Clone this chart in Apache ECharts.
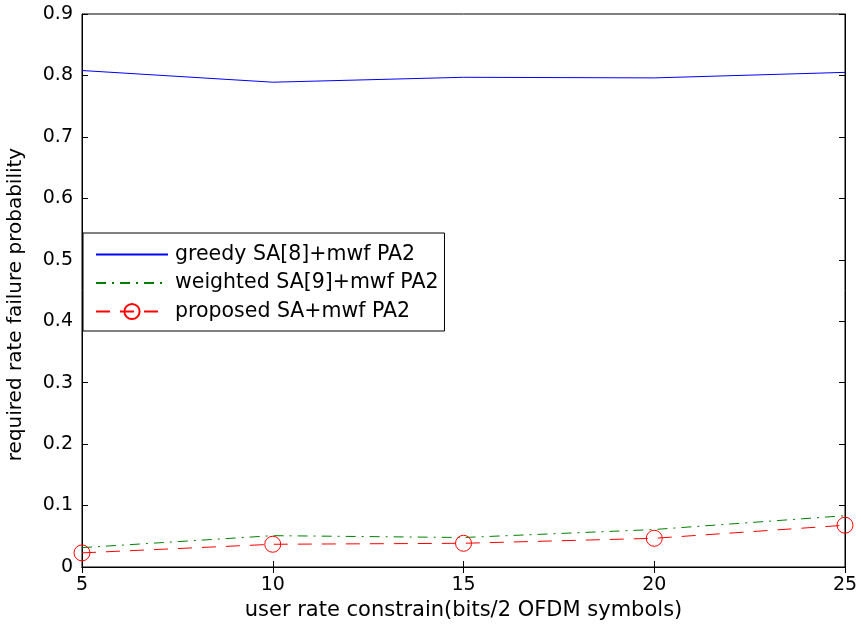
<!DOCTYPE html>
<html><head><meta charset="utf-8">
<script src="https://cdn.jsdelivr.net/npm/echarts@6/dist/echarts.min.js"></script>
<style>html,body{margin:0;padding:0;background:#fff}#c{width:861px;height:630px}</style>
</head><body><div id="c"></div>
<script>
const xValues = [5, 10, 15, 20, 25];
const greedy = [0.808, 0.789, 0.797, 0.796, 0.805];
const weighted = [0.0315, 0.051, 0.048, 0.061, 0.0835];
const proposed = [0.023, 0.037, 0.0386, 0.0467, 0.068];
const seriesNames = ['greedy SA[8]+mwf PA2', 'weighted SA[9]+mwf PA2', 'proposed SA+mwf PA2'];
const xTitle = 'user rate constrain(bits/2 OFDM symbols)';
const yTitle = 'required rate failure probability';

const pair = a => xValues.map((x, i) => [x, a[i]]);
const font = '"DejaVu Sans", Arial, Helvetica, sans-serif';
const chart = echarts.init(document.getElementById('c'));
const axisLine = {show: true, lineStyle: {color: '#000', width: 1}};
const tick = {inside: true, length: 6, lineStyle: {color: '#000'}};
chart.setOption({
  animation: false,
  backgroundColor: '#fff',
  grid: {left: 82, top: 14, width: 763, height: 553, show: true, borderColor: '#000', borderWidth: 1,
         containLabel: false, outerBoundsMode: 'none'},
  legend: {
    left: 83, top: 233,
    orient: 'vertical', itemGap: 7.5, padding: [11, 6, 9, 12],
    backgroundColor: '#fff', borderColor: '#000', borderWidth: 1, borderRadius: 0,
    itemWidth: 72, itemHeight: 19,
    textStyle: {fontFamily: font, fontSize: 20.5, color: '#000', padding: [0, 0, 0, 2]},
    data: [
      {name: seriesNames[0], itemStyle: {opacity: 0}},
      {name: seriesNames[1], itemStyle: {opacity: 0}},
      {name: seriesNames[2]}
    ]
  },
  xAxis: [{
    type: 'value', min: 5, max: 25, interval: 5, position: 'bottom',
    axisLine: axisLine, axisTick: tick, splitLine: {show: false},
    axisLabel: {fontFamily: font, fontSize: 19, color: '#000', margin: 9},
    name: xTitle, nameLocation: 'middle', nameGap: 31,
    nameTextStyle: {fontFamily: font, fontSize: 21, color: '#000'}
  }, {
    type: 'value', min: 5, max: 25, interval: 5, position: 'top',
    axisLine: axisLine, axisTick: tick, splitLine: {show: false}, axisLabel: {show: false}
  }],
  yAxis: [{
    type: 'value', min: 0, max: 0.9, interval: 0.1, position: 'left',
    axisLine: axisLine, axisTick: tick, splitLine: {show: false},
    axisLabel: {fontFamily: font, fontSize: 19, color: '#000', margin: 9},
    name: yTitle, nameLocation: 'middle', nameGap: 56, nameRotate: 90,
    nameTextStyle: {fontFamily: font, fontSize: 20, color: '#000', padding: [0, 28, 0, 0]}
  }, {
    type: 'value', min: 0, max: 0.9, interval: 0.1, position: 'right',
    axisLine: axisLine, axisTick: tick, splitLine: {show: false}, axisLabel: {show: false}
  }],
  series: [{
    name: seriesNames[0], type: 'line', data: pair(greedy), showSymbol: false, symbol: 'none',
    lineStyle: {color: '#0000ff', width: 1}, itemStyle: {color: '#0000ff'}
  }, {
    name: seriesNames[1], type: 'line', data: pair(weighted), showSymbol: false, symbol: 'none',
    lineStyle: {color: '#008000', width: 1, type: [10, 6, 2, 6]}, itemStyle: {color: '#008000'}
  }, {
    name: seriesNames[2], type: 'line', data: pair(proposed), symbol: 'circle', symbolSize: 16,
    lineStyle: {color: '#ff0000', width: 1, type: [14, 10]},
    itemStyle: {color: 'rgba(0,0,0,0)', borderColor: '#ff0000', borderWidth: 1}
  }]
});
</script></body></html>
